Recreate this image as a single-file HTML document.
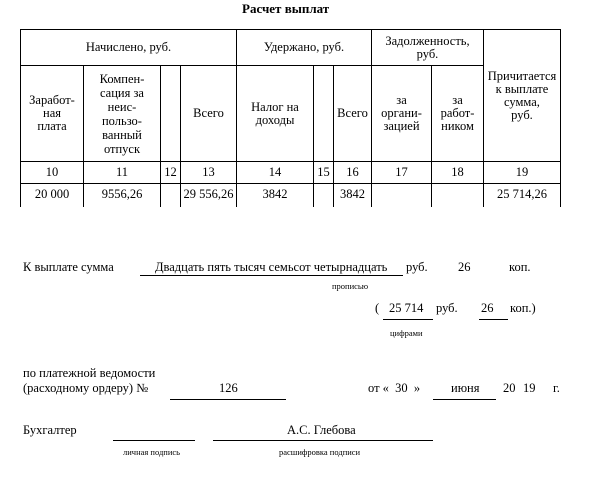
<!DOCTYPE html>
<html><head><meta charset="utf-8">
<style>
body{margin:0;width:600px;height:480px;background:#fff;position:relative;overflow:hidden;font-family:"Liberation Serif","Noto Serif CJK SC",serif;color:#000;}
.t{position:absolute;font-size:12.5px;white-space:nowrap;line-height:1;}
.s{position:absolute;font-size:8.5px;white-space:nowrap;line-height:1;}
.l{position:absolute;height:1px;background:#000;}
.v{position:absolute;width:1px;background:#000;}
.c{position:absolute;font-size:12.5px;text-align:center;line-height:13px;display:flex;align-items:center;justify-content:center;}
</style></head><body>
<div class="t" style="left:242px;top:2px;font-weight:bold;font-size:13px">Расчет выплат</div>

<div class="l" style="left:20px;width:541px;top:29px"></div>
<div class="l" style="left:20px;width:463px;top:65px"></div>
<div class="l" style="left:20px;width:541px;top:161px"></div>
<div class="l" style="left:20px;width:541px;top:183px"></div>
<div class="v" style="left:20px;top:29px;height:178px"></div>
<div class="v" style="left:83px;top:65px;height:142px"></div>
<div class="v" style="left:160px;top:65px;height:142px"></div>
<div class="v" style="left:180px;top:65px;height:142px"></div>
<div class="v" style="left:236px;top:29px;height:178px"></div>
<div class="v" style="left:313px;top:65px;height:142px"></div>
<div class="v" style="left:333px;top:65px;height:142px"></div>
<div class="v" style="left:371px;top:29px;height:178px"></div>
<div class="v" style="left:431px;top:65px;height:142px"></div>
<div class="v" style="left:483px;top:29px;height:178px"></div>
<div class="v" style="left:560px;top:29px;height:178px"></div>

<div class="c" style="left:21px;top:30px;width:215px;height:35px">Начислено, руб.</div>
<div class="c" style="left:237px;top:30px;width:134px;height:35px">Удержано, руб.</div>
<div class="c" style="left:372px;top:30px;width:111px;height:35px">Задолженность,<br>руб.</div>
<div class="c" style="left:484px;top:30px;width:76px;height:131px;line-height:13px">Причитается<br>к выплате<br>сумма,<br>руб.</div>
<div class="c" style="left:21px;top:66px;width:62px;height:95px">Заработ-<br>ная<br>плата</div>
<div class="c" style="left:84px;top:66px;width:76px;height:95px;line-height:14px">Компен-<br>сация за<br>неис-<br>пользо-<br>ванный<br>отпуск</div>
<div class="c" style="left:181px;top:66px;width:55px;height:95px">Всего</div>
<div class="c" style="left:237px;top:66px;width:76px;height:95px">Налог на<br>доходы</div>
<div class="c" style="left:334px;top:66px;width:37px;height:95px">Всего</div>
<div class="c" style="left:372px;top:66px;width:59px;height:95px">за<br>органи-<br>зацией</div>
<div class="c" style="left:432px;top:66px;width:51px;height:95px">за<br>работ-<br>ником</div>

<div class="c" style="left:21px;top:162px;width:62px;height:21px">10</div>
<div class="c" style="left:84px;top:162px;width:76px;height:21px">11</div>
<div class="c" style="left:161px;top:162px;width:19px;height:21px">12</div>
<div class="c" style="left:181px;top:162px;width:55px;height:21px">13</div>
<div class="c" style="left:237px;top:162px;width:76px;height:21px">14</div>
<div class="c" style="left:314px;top:162px;width:19px;height:21px">15</div>
<div class="c" style="left:334px;top:162px;width:37px;height:21px">16</div>
<div class="c" style="left:372px;top:162px;width:59px;height:21px">17</div>
<div class="c" style="left:432px;top:162px;width:51px;height:21px">18</div>
<div class="c" style="left:484px;top:162px;width:76px;height:21px">19</div>

<div class="c" style="left:21px;top:184px;width:62px;height:20px">20 000</div>
<div class="c" style="left:84px;top:184px;width:76px;height:20px">9556,26</div>
<div class="c" style="left:181px;top:184px;width:55px;height:20px">29 556,26</div>
<div class="c" style="left:237px;top:184px;width:76px;height:20px">3842</div>
<div class="c" style="left:334px;top:184px;width:37px;height:20px">3842</div>
<div class="c" style="left:484px;top:184px;width:76px;height:20px">25 714,26</div>

<div class="t" style="left:23px;top:261px">К выплате сумма</div>
<div class="l" style="left:140px;width:263px;top:275px"></div>
<div class="t" style="left:155px;top:261px">Двадцать пять тысяч семьсот четырнадцать</div>
<div class="t" style="left:406px;top:261px">руб.</div>
<div class="t" style="left:458px;top:261px">26</div>
<div class="t" style="left:509px;top:261px">коп.</div>
<div class="s" style="left:332px;top:282px">прописью</div>

<div class="t" style="left:375px;top:302px">(</div>
<div class="t" style="left:389px;top:302px">25 714</div>
<div class="l" style="left:383px;width:50px;top:319px"></div>
<div class="t" style="left:436px;top:302px">руб.</div>
<div class="t" style="left:481px;top:302px">26</div>
<div class="l" style="left:479px;width:29px;top:319px"></div>
<div class="t" style="left:510px;top:302px">коп.)</div>
<div class="s" style="left:390px;top:329px">цифрами</div>

<div class="t" style="left:23px;top:367px">по платежной ведомости</div>
<div class="t" style="left:23px;top:382px">(расходному ордеру) №</div>
<div class="t" style="left:219px;top:382px">126</div>
<div class="l" style="left:170px;width:116px;top:399px"></div>
<div class="t" style="left:368px;top:382px">от «&nbsp;&nbsp;30&nbsp;&nbsp;»</div>
<div class="t" style="left:451px;top:382px">июня</div>
<div class="l" style="left:433px;width:63px;top:399px"></div>
<div class="t" style="left:503px;top:382px">20</div>
<div class="t" style="left:523px;top:382px">19</div>
<div class="t" style="left:553px;top:382px">г.</div>

<div class="t" style="left:23px;top:424px">Бухгалтер</div>
<div class="l" style="left:113px;width:82px;top:440px"></div>
<div class="l" style="left:213px;width:220px;top:440px"></div>
<div class="t" style="left:287px;top:424px">А.С. Глебова</div>
<div class="s" style="left:123px;top:448px">личная подпись</div>
<div class="s" style="left:279px;top:448px">расшифровка подписи</div>
</body></html>
